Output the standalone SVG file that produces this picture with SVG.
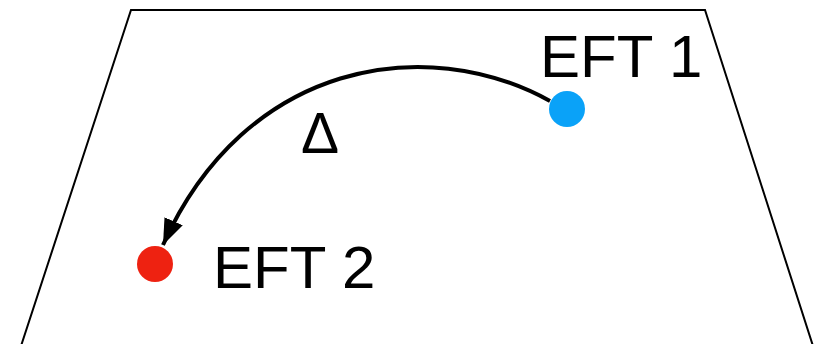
<svg xmlns="http://www.w3.org/2000/svg" width="825" height="344" viewBox="0 0 825 344">
<style>
.lbl{font-family:"Liberation Sans",Arial,Helvetica,sans-serif;fill:#000}
.edge{fill:none;stroke:#000;stroke-width:4}
</style>
<defs>
<marker id="ah" markerUnits="userSpaceOnUse" viewBox="0 -10 26 20" refX="26" refY="0" markerWidth="26" markerHeight="20" orient="auto">
<path d="M0,-10 L26,0 L0,10 z" fill="#000"/>
</marker>
</defs>
<rect width="825" height="344" fill="#fff"/>
<g id="plane">
<polyline points="21,346 131,10 705,10 813,346" fill="none" stroke="#000" stroke-width="2"/>
</g>
<g id="connectors">
<path class="edge" d="M550,101 C425,32 245,62 163,245" marker-end="url(#ah)"/>
<text class="lbl" x="320" y="153" font-size="57" text-anchor="middle">Δ</text>
</g>
<g id="eft1">
<circle cx="567" cy="109" r="18" fill="#0aa2f8"/>
<text class="lbl" x="540" y="77" font-size="60">EFT 1</text>
</g>
<g id="eft2">
<circle cx="155" cy="264" r="18" fill="#ee2211"/>
<text class="lbl" x="213" y="288" font-size="60">EFT 2</text>
</g>
</svg>
